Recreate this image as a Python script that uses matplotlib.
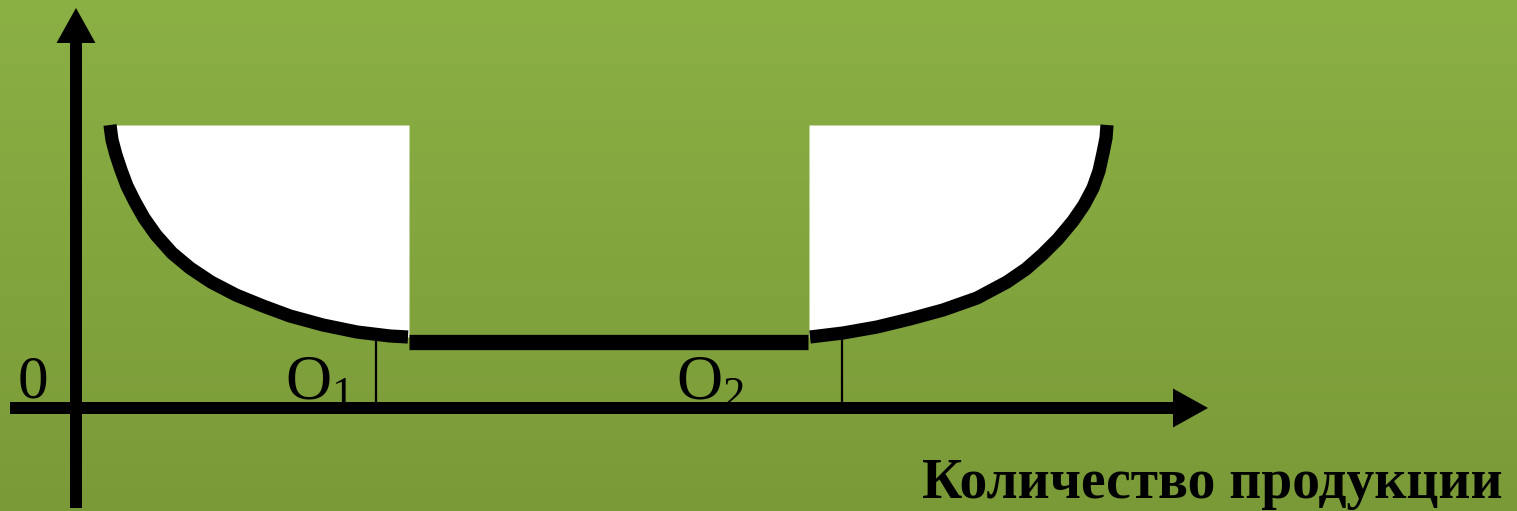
import matplotlib
matplotlib.use('Agg')
import matplotlib.pyplot as plt
import numpy as np
from matplotlib.colors import LinearSegmentedColormap

# falling branch of the cost curve (quantity, average cost)
left_q = [34, 36, 40, 45, 51, 59, 68, 80, 96, 114, 135, 160, 187, 214, 247, 281, 314, 332]
left_c = [283, 268, 253, 238, 222, 206, 190, 173, 155, 140, 126, 113, 102, 92, 83, 76, 72, 71]

# flat bottom between O1 and O2
flat_q = [333, 732]
flat_c = [66, 66]

# rising branch
right_q = [734, 767, 801, 834, 867, 901, 931, 950, 966, 982, 997, 1008, 1017, 1023, 1027, 1030, 1031]
right_c = [71, 75, 81, 89, 98, 110, 126, 139, 153, 169, 187, 203, 220, 237, 255, 270, 283]

fill_top = 283
mark_q = [300, 766]
mark_c = [73, 75]
mark_labels = ['O$_1$', 'O$_2$']

x_label = 'Количество продукции'

plt.rcParams['mathtext.fontset'] = 'custom'
plt.rcParams['mathtext.rm'] = 'Liberation Serif'
plt.rcParams['mathtext.it'] = 'Liberation Serif'

fig = plt.figure(figsize=(15.17, 5.11), dpi=100)
ax = fig.add_axes([0, 0, 1, 1])
ax.set_xlim(-76, 1441)
ax.set_ylim(-103, 408)
ax.axis('off')

# green gradient background
bg = LinearSegmentedColormap.from_list('bg', ['#7a9a38', '#8bb044'])
grad = np.linspace(0, 1, 256).reshape(-1, 1)
ax.imshow(grad, cmap=bg, aspect='auto', origin='lower',
          extent=(-76, 1441, -103, 408), zorder=0)

# white areas above the curve
ax.fill_between(left_q + [flat_q[0]], left_c + [left_c[-1]], fill_top,
                color='white', lw=0, zorder=1)
ax.fill_between([right_q[0] - 1] + right_q, [right_c[0]] + right_c, fill_top,
                color='white', lw=0, zorder=1)

# thin marks down to the axis
for q, c in zip(mark_q, mark_c):
    ax.plot([q, q], [0, c], color='black', lw=1.6, zorder=2)

ax.plot(left_q, left_c, color='black', lw=9.5, solid_capstyle='butt',
        solid_joinstyle='round', zorder=3)
ax.plot(right_q, right_c, color='black', lw=9.5, solid_capstyle='butt',
        solid_joinstyle='round', zorder=3)
ax.plot(flat_q, flat_c, color='black', lw=11, solid_capstyle='butt', zorder=3)

# axes with arrows
ax.arrow(0, -100, 0, 500, width=12, head_width=39, head_length=35,
         length_includes_head=True, fc='black', ec='none', zorder=4)
ax.arrow(-66, 0, 1198, 0, width=12, head_width=39, head_length=35,
         length_includes_head=True, fc='black', ec='none', zorder=4)

font = dict(family='Liberation Serif', color='black')
ax.text(-43, 11, '0', fontsize=44, ha='center', va='baseline', **font)
ax.text(209, 9, mark_labels[0], fontsize=46, ha='left', va='baseline', **font)
ax.text(600, 9, mark_labels[1], fontsize=46, ha='left', va='baseline', **font)
ax.text(1136, -90, x_label, fontsize=40, fontweight='bold',
        ha='center', va='baseline', **font)

fig.savefig('out.png', dpi=100)
